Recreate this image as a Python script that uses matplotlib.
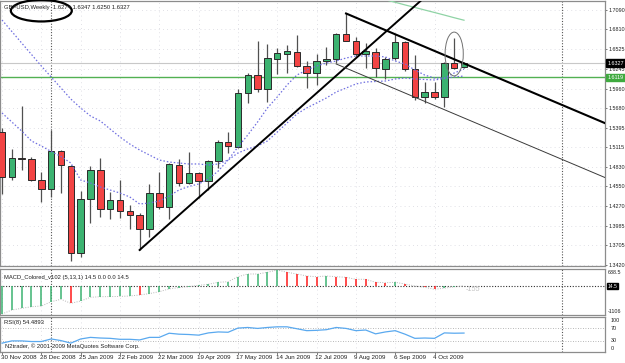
import matplotlib
matplotlib.use('Agg')
import matplotlib.pyplot as plt
from matplotlib.patches import Ellipse
from matplotlib.transforms import blended_transform_factory
import numpy as np

plt.rcParams['font.family'] = ['Liberation Sans', 'DejaVu Sans']

W, H = 625, 363
BAR_PX = 9.83   # pixel spacing of one weekly bar
X0_PX = 2.0     # pixel x of the first bar

# ---- weekly GBPUSD candles (30 Nov 2008 .. 25 Oct 2009) ----
opens = [1.5334, 1.4682, 1.4964, 1.4946, 1.4639, 1.4509, 1.5056, 1.4845, 1.3588, 1.4366,
         1.4783, 1.4222, 1.4351, 1.4202, 1.4144, 1.3938, 1.4456, 1.4250, 1.4859, 1.4596,
         1.4740, 1.4625, 1.4913, 1.5190, 1.5123, 1.5891, 1.6150, 1.5949, 1.6389, 1.6457,
         1.6490, 1.6284, 1.6179, 1.6352, 1.6385, 1.6745, 1.6648, 1.6453, 1.6490, 1.6241,
         1.6395, 1.6634, 1.6236, 1.5842, 1.5906, 1.5834, 1.6332, 1.6270]
highs = [1.5392, 1.5085, 1.5708, 1.4979, 1.4758, 1.5363, 1.5075, 1.4855, 1.4489, 1.4845,
         1.4964, 1.4466, 1.4639, 1.4284, 1.4164, 1.4586, 1.4758, 1.4888, 1.4941, 1.5051,
         1.4763, 1.4931, 1.5219, 1.5338, 1.5949, 1.6179, 1.6648, 1.6601, 1.6543, 1.6582,
         1.6726, 1.6360, 1.6457, 1.6562, 1.6755, 1.7040, 1.6697, 1.6611, 1.6539, 1.6409,
         1.6740, 1.6644, 1.6442, 1.6049, 1.6049, 1.6342, 1.6683, 1.6347]
lows = [1.4442, 1.4643, 1.4787, 1.4629, 1.4331, 1.4394, 1.4452, 1.3482, 1.3531, 1.4029,
        1.4106, 1.4078, 1.4092, 1.3934, 1.3636, 1.3827, 1.4222, 1.4086, 1.4557, 1.4586,
        1.4389, 1.4500, 1.4812, 1.5036, 1.5100, 1.5756, 1.5914, 1.5770, 1.6169, 1.6188,
        1.6274, 1.5963, 1.6010, 1.6294, 1.6323, 1.6637, 1.6428, 1.6251, 1.6121, 1.6093,
        1.6370, 1.6216, 1.5795, 1.5756, 1.5805, 1.5690, 1.6245, 1.6250]
closes = [1.4687, 1.4964, 1.4946, 1.4643, 1.4509, 1.5061, 1.4855, 1.3588, 1.4366, 1.4783,
          1.4222, 1.4351, 1.4193, 1.4144, 1.3938, 1.4456, 1.4255, 1.4874, 1.4596, 1.4740,
          1.4625, 1.4917, 1.5194, 1.5133, 1.5891, 1.6150, 1.5949, 1.6404, 1.6467, 1.6496,
          1.6288, 1.6179, 1.6352, 1.6385, 1.6745, 1.6648, 1.6453, 1.6500, 1.6251, 1.6389,
          1.6634, 1.6236, 1.5842, 1.5906, 1.5834, 1.6332, 1.6260, 1.6327]

# moving averages (blue dotted)
fast_ma = [1.5608, 1.5478, 1.5349, 1.5205, 1.5133, 1.5054, 1.4982, 1.4888, 1.4643, 1.4600,
           1.4543, 1.4499, 1.4456, 1.4399, 1.4298, 1.4312, 1.4341, 1.4413, 1.4499, 1.4550,
           1.4586, 1.4658, 1.4773, 1.4931, 1.5118, 1.5291, 1.5478, 1.5680, 1.5838, 1.6011,
           1.6154, 1.6227, 1.6284, 1.6327, 1.6356, 1.6399, 1.6428, 1.6428, 1.6428, 1.6414,
           1.6356, 1.6313, 1.6227, 1.6154, 1.6111, 1.6111, 1.6183, 1.6241]
slow_ma = [1.6946, 1.6781, 1.6615, 1.6450, 1.6284, 1.6126, 1.5967, 1.5809, 1.5680, 1.5565,
           1.5493, 1.5377, 1.5262, 1.5161, 1.5075, 1.5003, 1.4931, 1.4902, 1.4888, 1.4874,
           1.4874, 1.4859, 1.4874, 1.4931, 1.5032, 1.5090, 1.5133, 1.5205, 1.5334, 1.5464,
           1.5594, 1.5680, 1.5752, 1.5824, 1.5910, 1.5967, 1.6025, 1.6054, 1.6061, 1.6068,
           1.6097, 1.6111, 1.6097, 1.6090, 1.6083, 1.6104, 1.6126, 1.6140]
# long MA (light green), only the visible tail
long_ma_start = 38
long_ma = [1.7274, 1.7237, 1.7201, 1.7163, 1.7127, 1.7090, 1.7054, 1.7017, 1.6979, 1.6943]

# trend lines: (bar, price) anchors
uptrend = [(14, 1.3636), (35, 1.6270)]
downtrend = [(35, 1.7040), (47, 1.6321)]
channel = [(34, 1.6313), (47, 1.5536)]

bid_price = 1.6327
green_level = 1.6119
price_ticks = [1.7090, 1.6810, 1.6525, 1.6245, 1.5960, 1.5680, 1.5395, 1.5115,
               1.4830, 1.4550, 1.4270, 1.3985, 1.3705, 1.3420]

# MACD histogram
macd = [-1106, -948, -880, -817, -789, -619, -523, -682, -591, -444,
        -420, -415, -410, -392, -353, -297, -222, -110, -60, -20,
        30, 75, 151, 174, 373, 480, 480, 547, 638.5, 547,
        480, 400, 373, 400, 373, 349, 270, 270, 151, 135,
        151, 83, 4, -48, -127, -80, -30, 14.5]
macd_colors = ['g'] * 7 + ['r'] + ['g'] * 6 + ['r'] + ['g'] * 14 + ['r'] * 4 + ['g'] + \
              ['r'] * 6 + ['g'] + ['r'] * 4 + ['g'] * 3

# RSI(8)
rsi = [23, 30, 30, 28, 28, 36, 31, 23, 36, 41,
       39, 38, 35, 35, 33, 41, 41, 54, 51, 50,
       48, 55, 58, 57, 70, 72, 69, 72, 74, 74,
       68, 62, 63, 65, 72, 69, 62, 64, 52, 58,
       62, 51, 38, 39, 38, 55, 54, 54.49]

date_bars = [0, 4, 8, 12, 16, 20, 24, 28, 32, 36, 40, 44]
date_labels = ['30 Nov 2008', '28 Dec 2008', '25 Jan 2009', '22 Feb 2009', '22 Mar 2009',
               '19 Apr 2009', '17 May 2009', '14 Jun 2009', '12 Jul 2009', '9 Aug 2009',
               '6 Sep 2009', '4 Oct 2009']
separator_bars = [5, 57]

GREEN = '#3cb371'
RED = '#f24444'
FS = 4.2        # small MT4 style text
FS_AXIS = 3.9   # right-hand scale labels
FS_DATE = 4.5


def px_axes(fig, x0, y0, x1, y1):
    return fig.add_axes([x0 / W, 1 - y1 / H, (x1 - x0) / W, (y1 - y0) / H])


def style_panel(ax):
    ax.set_facecolor('white')
    for s in ax.spines.values():
        s.set_color('#8c8c8c')
        s.set_linewidth(0.9)
    ax.yaxis.tick_right()
    ax.tick_params(axis='y', labelsize=FS_AXIS, length=1.6, width=0.6, color='#606060',
                   pad=0.8, labelcolor='#202020')
    ax.set_xticks([])
    ax.set_xlim(((0 - X0_PX) / BAR_PX), ((605 - X0_PX) / BAR_PX))
    for b in date_bars:
        ax.axvline(b, color='#d6d6de', lw=0.6, ls=(0, (1, 4)), zorder=0)
    for b in separator_bars:
        ax.axvline(b, color='#555555', lw=0.8, ls=(0, (1, 1.5)), zorder=1)


def ray(ax, pts, x_end, **kw):
    (x1, y1), (x2, y2) = pts
    slope = (y2 - y1) / (x2 - x1)
    ax.plot([x1, x_end], [y1, y1 + slope * (x_end - x1)], **kw)


fig = plt.figure(figsize=(W / 100, H / 100), dpi=100)
fig.patch.set_facecolor('white')

# ---------------- main price panel ----------------
ax = px_axes(fig, 0, 1, 605, 266)
style_panel(ax)
px_per_price = 1 / 0.0014392
ax.set_ylim(1.7090 - (266 - 10) / px_per_price, 1.7090 + (10 - 1) / px_per_price)
ax.set_yticks(price_ticks)
ax.set_yticklabels(['%.4f' % p for p in price_ticks])
for p in price_ticks:
    ax.axhline(p, color='#d6d6de', lw=0.6, ls=(0, (1, 4)), zorder=0)

bars = np.arange(len(opens))
o, h, l, c = map(np.array, (opens, highs, lows, closes))
up = c >= o
ax.vlines(bars, l, h, color='#505050', lw=0.9, zorder=3)
body_lo = np.minimum(o, c)
body_h = np.maximum(np.abs(c - o), 0.0006)
ax.bar(bars, body_h, bottom=body_lo, width=0.66,
       color=np.where(up, GREEN, RED), edgecolor='#2a2a2a', linewidth=0.7, zorder=4)

ax.plot(bars, fast_ma, color='#6f6fe0', lw=0.9, ls=(0, (1.2, 1.6)), zorder=5)
ax.plot(bars, slow_ma, color='#6f6fe0', lw=0.9, ls=(0, (1.2, 1.6)), zorder=5)
ax.plot(bars[long_ma_start:], long_ma, color='#8fd3a5', lw=0.9, zorder=5)

ax.axhline(bid_price, color='#c8c8c8', lw=0.8, zorder=2)
ax.axhline(green_level, color='#52b152', lw=1.0, zorder=2)

x_right = (605 - X0_PX) / BAR_PX
ray(ax, uptrend, x_right, color='black', lw=1.4, zorder=6)
ray(ax, downtrend, x_right, color='black', lw=1.5, zorder=6)
ray(ax, channel, x_right, color='#3a3a3a', lw=0.7, zorder=6)

# annotations: ellipses
ax.add_patch(Ellipse((4.0, 1.7080), 6.2, 0.031, fill=False, ec='black', lw=1.6,
                     zorder=8, clip_on=False))
ax.add_patch(Ellipse((46, 1.6457), 1.85, 0.063, fill=False, ec='#707070', lw=0.7, zorder=8))

ax.text(0.006, 0.985, 'GBPUSD,Weekly  1.6274 1.6347 1.6250 1.6327', transform=ax.transAxes,
        fontsize=FS, color='#202020', va='top', ha='left', zorder=9)

tr = blended_transform_factory(ax.transAxes, ax.transData)
ax.text(1.004, bid_price, '1.6327', transform=tr, fontsize=FS_AXIS, color='white',
        va='center', ha='left', zorder=10, clip_on=False,
        bbox=dict(boxstyle='square,pad=0.2', fc='black', ec='black'))
ax.text(1.004, green_level, '1.6119', transform=tr, fontsize=FS_AXIS, color='white',
        va='center', ha='left', zorder=10, clip_on=False,
        bbox=dict(boxstyle='square,pad=0.2', fc='#3faa3f', ec='#3faa3f'))

# ---------------- MACD panel ----------------
ax2 = px_axes(fig, 0, 269, 605, 315)
style_panel(ax2)
unit = 1744.5 / 44
ax2.set_ylim(-1106 - unit, 638.5 + unit)
ax2.set_yticks([])
ax2.axhline(0, color='#303030', lw=0.8, ls=(0, (1, 1.5)), zorder=2)
ax2.vlines(bars, 0, macd, colors=[GREEN if k == 'g' else '#ff1a1a' for k in macd_colors],
           lw=1.1, zorder=3)
ax2.plot(bars, macd, color='#b8b8b8', lw=0.7, ls=(0, (1, 1.5)), zorder=2)
ax2.text(0.006, 0.88, 'MACD_Colored_v102 (5,13,1) 14.5 0.0 0.0 14.5', transform=ax2.transAxes,
         fontsize=FS, color='#202020', va='top', ha='left')
ax2.text(bars[-1] + 0.2, -115, '-155', fontsize=FS + 1, color='#c4c4c4', va='center')
tr2 = blended_transform_factory(ax2.transAxes, ax2.transData)
ax2.text(1.004, 638.5, '638.5', transform=tr2, fontsize=FS_AXIS, va='top', ha='left',
         color='#202020', clip_on=False)
ax2.text(1.004, -1106, '-1106', transform=tr2, fontsize=FS_AXIS, va='bottom', ha='left',
         color='#202020', clip_on=False)
ax2.text(1.004, 0, '14.5', transform=tr2, fontsize=FS_AXIS - 0.3, va='center', ha='left',
         color='white', clip_on=False,
         bbox=dict(boxstyle='square,pad=0.15', fc='black', ec='black'))

# ---------------- RSI panel ----------------
ax3 = px_axes(fig, 0, 317, 605, 352)
style_panel(ax3)
ru = 100 / 32.0
ax3.set_ylim(-1.5 * ru, 100 + 1.5 * ru)
ax3.set_yticks([])
for lvl in (70, 30):
    ax3.axhline(lvl, color='#a0a0a0', lw=0.6, ls=(0, (1, 2)), zorder=1)
ax3.plot(bars, rsi, color='#5aa9ef', lw=0.9, zorder=3)
ax3.text(0.006, 0.92, 'RSI(8) 54.4893', transform=ax3.transAxes, fontsize=FS,
         color='#202020', va='top', ha='left')
ax3.text(0.008, 0.08, 'N2trader, \u00a9 2001-2009 MetaQuotes Software Corp.',
         transform=ax3.transAxes, fontsize=FS, color='#202020', va='bottom', ha='left')
tr3 = blended_transform_factory(ax3.transAxes, ax3.transData)
for lvl, txt, va in [(100, '100', 'top'), (70, '70', 'center'), (30, '30', 'center'),
                     (0, '0', 'bottom')]:
    ax3.text(1.01, lvl, txt, transform=tr3, fontsize=FS_AXIS, va=va, ha='left',
             color='#202020', clip_on=False)

# date labels
trd = blended_transform_factory(ax3.transData, fig.transFigure)
for b, txt in zip(date_bars, date_labels):
    ax3.text(b - 0.15, 1 - 357.5 / H, txt, transform=trd, fontsize=FS_DATE, va='center',
             ha='left', color='#202020', clip_on=False)
    ax3.plot([b, b], [1 - 352 / H, 1 - 354 / H], transform=trd, color='#606060',
             lw=0.6, clip_on=False)

fig.savefig('out.png', dpi=100, facecolor='white')
